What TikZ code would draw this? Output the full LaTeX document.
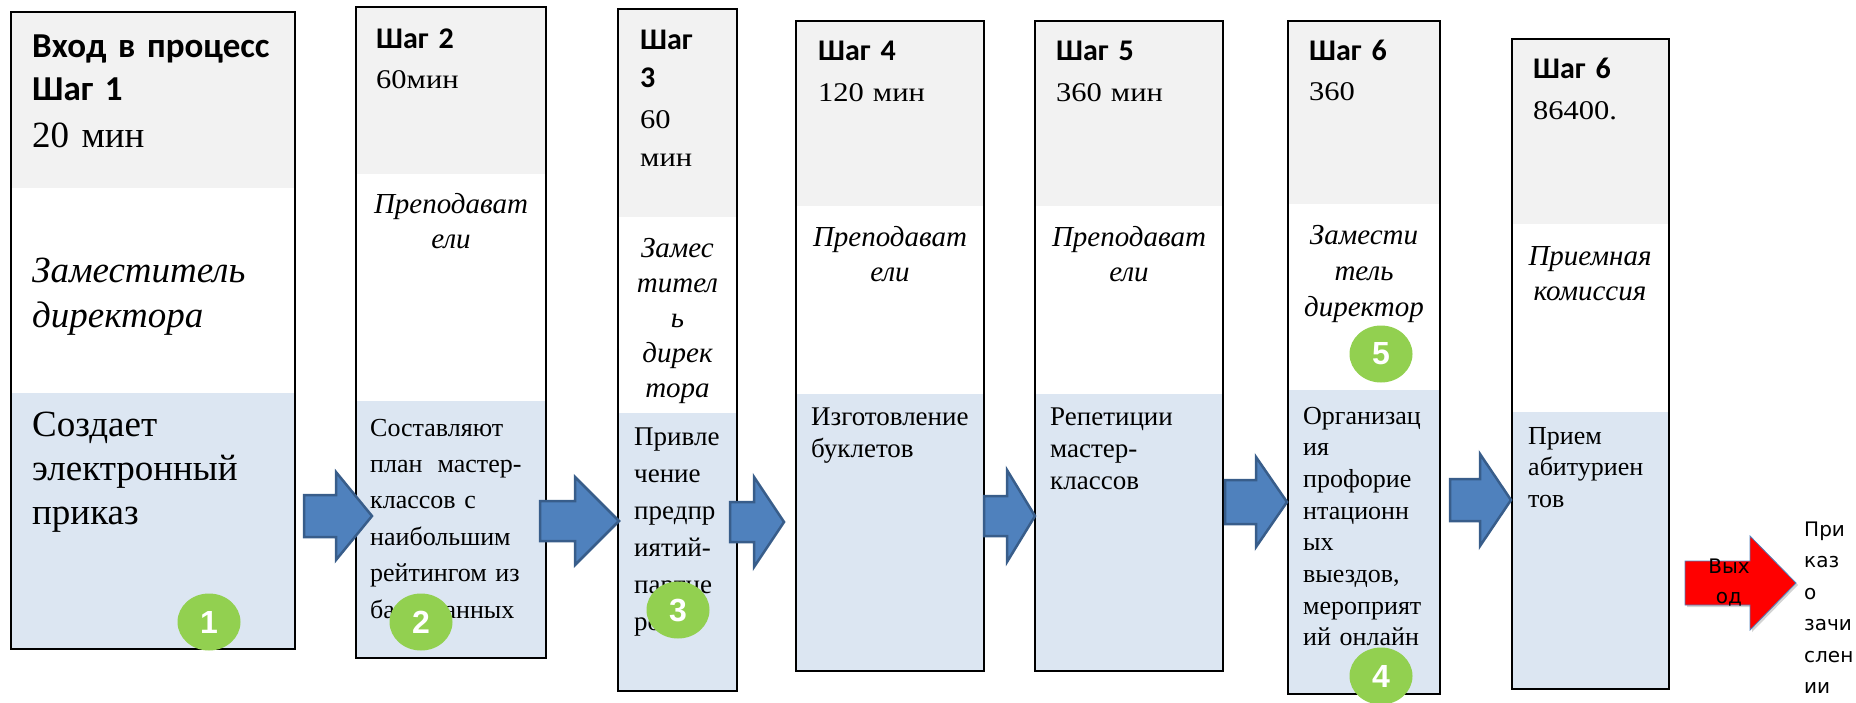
\documentclass[tikz,border=0pt]{standalone}
\usepackage{fontspec}
\setmainfont{Liberation Serif}
\newfontfamily\headfont{Carlito}
\newfontfamily\widefont[FakeStretch=1.13]{Liberation Serif}
\newfontfamily\notefont{DejaVu Sans}
\newfontfamily\numfont{Liberation Sans}
\usetikzlibrary{shapes.geometric, shadows, fit}

\definecolor{cellgray}{HTML}{F2F2F2}
\definecolor{cellblue}{HTML}{DCE6F2}
\definecolor{arrowfill}{HTML}{4F81BD}
\definecolor{arrowline}{HTML}{385D8A}
\definecolor{badgegreen}{HTML}{92D050}

\begin{document}
\begin{tikzpicture}[
 x=1pt, y=-1pt,
 boxframe/.style={draw=black, line width=2.5pt, inner sep=0pt},
 stephead/.style 2 args={inner sep=0pt, anchor=base west, align=left, text width=300pt,
   font=\headfont\bfseries\fontsize{#1}{#2}\selectfont},
 steptime/.style 2 args={inner sep=0pt, anchor=base west, align=left, text width=200pt,
   font=\widefont\fontsize{#1}{#2}\selectfont},
 role/.style 2 args={inner sep=0pt, anchor=base, align=center, text width=200pt,
   font=\itshape\fontsize{#1}{#2}\selectfont},
 task/.style 2 args={inner sep=0pt, anchor=base west, align=left, text width=260pt,
   font=\fontsize{#1}{#2}\selectfont},
 flowarrow/.style={fill=arrowfill, draw=arrowline, line width=2.5pt, line join=miter},
 exitarrow/.style={fill=red, draw=arrowfill, line width=0.8pt,
   drop shadow={opacity=0.35, shadow xshift=2pt, shadow yshift=-2pt}},
 badge/.style={ellipse, fill=badgegreen, minimum width=63pt, minimum height=57pt,
   inner sep=0pt, text=white, font=\numfont\bfseries\fontsize{32}{36}\selectfont},
 note/.style={inner sep=0pt, anchor=base west, align=left, text width=60pt,
   font=\notefont\fontsize{20}{31.5}\selectfont}
]
\useasboundingbox (0,0) rectangle (1856,702);

% step columns: name / left / top / right / bottom / end of grey / start of blue
\foreach \n/\xa/\ya/\xb/\yb/\g/\b in {
  1/11/12/295/649/188/393,
  2/356/7/546/658/174/401,
  3/618/9/737/691/217/413,
  4/796/21/984/671/206/394,
  5/1035/21/1223/671/206/394,
  6/1288/21/1440/694/204/390,
  7/1512/39/1669/689/224/412} {
  \fill[cellgray] (\xa,\ya) rectangle (\xb,\g);
  \fill[cellblue] (\xa,\b) rectangle (\xb,\yb);
  \node[boxframe, fit={(\xa,\ya) (\xb,\yb)}] (s\n) {};
}

% step 1
\node[stephead={35}{43}] (h1) at (32,57) {Вход в процесс\\Шаг 1};
\node[steptime={37}{45}, font=\fontsize{37}{45}\selectfont] (t1) at (32,147) {20 мин};
\node[role={37}{45}, anchor=base west, align=left] (r1) at (32,282) {Заместитель\\директора};
\node[task={37}{44}] (k1) at (32,436) {Создает\\электронный\\приказ};

% step 2
\node[stephead={30}{38}] (h2) at (376,48) {Шаг 2};
\node[steptime={27}{38}] (t2) at (376,88) {60мин};
\node[role={29}{35}] (r2) at (451,213) {Преподават\\ели};
\node[task={26}{36.4}] (k2) at (370,436)
  {Составляют\\план\hspace{15pt}мастер-\\классов с\\наибольшим\\рейтингом из\\базы данных};

% step 3
\node[stephead={30}{38}] (h3) at (640,49) {Шаг\\3};
\node[steptime={27}{38}] (t3) at (640,128) {60\\мин};
\node[role={29}{35}] (r3) at (677.5,257) {Замес\\тител\\ь\\дирек\\тора};
\node[task={27}{37}] (k3) at (634,445) {Привле\\чение\\предпр\\иятий-\\партне\\ров};

% step 4
\node[stephead={30}{38}] (h4) at (818,60) {Шаг 4};
\node[steptime={27}{38}] (t4) at (818,101) {120 мин};
\node[role={29}{35}] (r4) at (890,246) {Преподават\\ели};
\node[task={27}{32}] (k4) at (811,425) {Изготовление\\буклетов};

% step 5
\node[stephead={30}{38}] (h5) at (1056,60) {Шаг 5};
\node[steptime={27}{38}] (t5) at (1056,101) {360 мин};
\node[role={29}{35}] (r5) at (1129,246) {Преподават\\ели};
\node[task={27}{32}] (k5) at (1050,425) {Репетиции\\мастер-\\классов};

% step 6
\node[stephead={30}{38}] (h6) at (1309,60) {Шаг 6};
\node[steptime={27}{38}] (t6) at (1309,100) {360};
\node[role={29}{36}] (r6) at (1364,244) {Замести\\тель\\директор};
\node[task={26}{31.7}] (k6) at (1303,424)
  {Организац\\ия\\профорие\\нтационн\\ых\\выездов,\\мероприят\\ий онлайн};

% step 7
\node[stephead={30}{38}] (h7) at (1533,78) {Шаг 6};
\node[steptime={27}{38}] (t7) at (1533,119) {86400.};
\node[role={29}{35}] (r7) at (1590,265) {Приемная\\комиссия};
\node[task={26}{31.5}] (k7) at (1528,444) {Прием\\абитуриен\\тов};

% arrows between the steps: tail / head base / tip / middle / half shaft / half head
\foreach \a/\b/\c/\m/\s/\h in {
  304/336/372/516/21/44,
  540/575/619/521/20/44,
  730/754/784/522/20/45,
  984/1007/1035/516/20/46,
  1225/1256/1287/502/22/45,
  1450/1480/1511/500/21/46}
  \draw[flowarrow] (\a,\m-\s) -- (\b,\m-\s) -- (\b,\m-\h) -- (\c,\m)
    -- (\b,\m+\h) -- (\b,\m+\s) -- (\a,\m+\s) -- cycle;

% output
\draw[exitarrow] (1685,561) -- (1750,561) -- (1750,536) -- (1796,583)
  -- (1750,630) -- (1750,605) -- (1685,605) -- cycle;
\node[note, anchor=base, align=center, font=\notefont\fontsize{20}{30}\selectfont] (out) at (1729,573) {Вых\\од};
\node[note] (order) at (1804,536) {При\\каз\\о\\зачи\\слен\\ии};

% numbered marks
\foreach \n/\x/\y in {1/209/622, 2/421/622, 3/678/610, 4/1381/676, 5/1381/354}
  \node[badge] (c\n) at (\x,\y) {\n};
\end{tikzpicture}
\end{document}
